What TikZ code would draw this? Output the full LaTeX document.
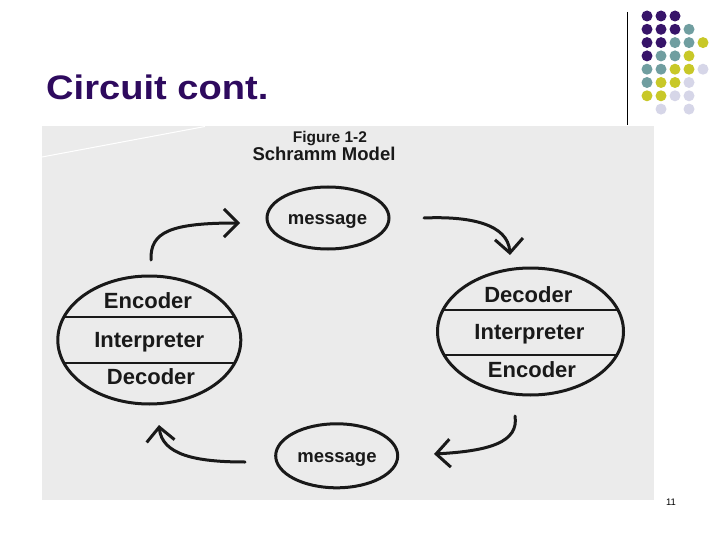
\documentclass[tikz,border=0pt]{standalone}
\usepackage{fontspec}
\setmainfont{Liberation Sans}
\usetikzlibrary{shapes.geometric,arrows.meta}
\definecolor{titlepurple}{RGB}{46,10,94}
\definecolor{dpurple}{RGB}{55,20,105}
\definecolor{dteal}{RGB}{112,158,160}
\definecolor{dyellow}{RGB}{200,200,40}
\definecolor{dlav}{RGB}{214,214,232}
\definecolor{photo}{RGB}{235,235,235}
\definecolor{ink}{RGB}{25,25,25}
\begin{document}
\begin{tikzpicture}[x=1pt,y=-1pt,
 ell/.style={ellipse, draw=ink, line width=3pt, inner sep=0pt},
 divider/.style={draw=ink, line width=2pt},
 lab/.style={font=\fontsize{22}{22}\selectfont\bfseries, text=ink, anchor=base, inner sep=0pt},
 msg/.style={font=\fontsize{18.5}{18.5}\selectfont\bfseries, text=ink, anchor=base, inner sep=0pt},
 flow/.style={draw=ink, line width=3pt, line cap=round, -{Straight Barb[length=14pt,width=28pt]}},
 dotP/.style={circle, fill=dpurple, inner sep=0pt, minimum size=11pt},
 dotT/.style={circle, fill=dteal, inner sep=0pt, minimum size=11pt},
 dotY/.style={circle, fill=dyellow, inner sep=0pt, minimum size=11pt},
 dotL/.style={circle, fill=dlav, inner sep=0pt, minimum size=11pt}
]
\useasboundingbox (0,0) rectangle (720,540);
\fill[white] (0,0) rectangle (720,540);
% title
\node[font=\fontsize{34}{34}\selectfont\bfseries, text=titlepurple, anchor=base west, inner sep=0pt, xscale=1.12] (title) at (46,99.5) {Circuit cont.};
% vertical rule
\coordinate (vr1) at (627.3,12);
\coordinate (vr2) at (627.3,125);
\draw[line width=1.3pt, black] (vr1) -- (vr2);
% dot grid
\foreach \c/\r/\s in {0/0/dotP,1/0/dotP,2/0/dotP,
  0/1/dotP,1/1/dotP,2/1/dotP,3/1/dotT,
  0/2/dotP,1/2/dotP,2/2/dotT,3/2/dotT,4/2/dotY,
  0/3/dotP,1/3/dotT,2/3/dotT,3/3/dotY,
  0/4/dotT,1/4/dotT,2/4/dotY,3/4/dotY,4/4/dotL,
  0/5/dotT,1/5/dotY,2/5/dotY,3/5/dotL,
  0/6/dotY,1/6/dotY,2/6/dotL,3/6/dotL,
  1/7/dotL,3/7/dotL}
  \node[\s] (d\c\r) at ({647+14*\c},{16+13.3*\r}) {};
% photo background
\fill[photo] (41.5,126) rectangle (653.5,500);
\draw[white, line width=1pt] (42,157) -- (205,126.5);
% heading
\node[font=\fontsize{15.5}{15.5}\selectfont\bfseries, text=ink, anchor=base, inner sep=0pt] (fig) at (330,142.5) {Figure 1-2};
\node[font=\fontsize{18.5}{18.5}\selectfont\bfseries, text=ink, anchor=base, inner sep=0pt] (schramm) at (324,160.5) {Schramm Model};
% message ellipses
\node[ell, minimum width=122pt, minimum height=62pt] (m1) at (328,218) {};
\node[msg] (m1t) at (327.5,225) {message};
\node[ell, minimum width=122pt, minimum height=64pt] (m2) at (336.7,455.8) {};
\node[msg] (m2t) at (337,462) {message};
% left ellipse
\node[ell, minimum width=183pt, minimum height=128pt,
  path picture={
   \draw[divider] ([yshift=23pt]path picture bounding box.west) -- ([yshift=23pt]path picture bounding box.east);
   \draw[divider] ([yshift=-22.5pt]path picture bounding box.west) -- ([yshift=-22.5pt]path picture bounding box.east);
  }] (L) at (149.3,340) {};
\node[lab] (Lenc) at (148,308.5) {Encoder};
\node[lab] (Lint) at (149.3,347) {Interpreter};
\node[lab] (Ldec) at (151,384) {Decoder};
% right ellipse
\node[ell, minimum width=186pt, minimum height=127pt,
  path picture={
   \draw[divider] ([yshift=21.5pt]path picture bounding box.west) -- ([yshift=21.5pt]path picture bounding box.east);
   \draw[divider] ([yshift=-23.5pt]path picture bounding box.west) -- ([yshift=-23.5pt]path picture bounding box.east);
  }] (R) at (530.5,331.5) {};
\node[lab] (Rdec) at (528.3,302) {Decoder};
\node[lab] (Rint) at (529.5,339.5) {Interpreter};
\node[lab] (Renc) at (532,377) {Encoder};
% arrows
\coordinate (a1s) at (151,260);
\coordinate (a1e) at (240,223);
\draw[flow] (a1s) .. controls (150,232) and (170,223) .. (a1e);
\coordinate (a2s) at (424,218);
\coordinate (a2e) at (510,255);
\draw[flow] (a2s) .. controls (470,216) and (508,224) .. (a2e);
\coordinate (a3s) at (515,416);
\coordinate (a3e) at (434,454);
\draw[flow] (a3s) .. controls (519,442) and (490,451) .. (a3e);
\coordinate (a4s) at (245,462);
\coordinate (a4e) at (159,425);
\draw[flow] (a4s) .. controls (196,462) and (162,455) .. (a4e);
% page number
\node[font=\fontsize{9.5}{9.5}\selectfont, anchor=base, inner sep=0pt] (pg) at (671,505) {11};
\end{tikzpicture}
\end{document}
